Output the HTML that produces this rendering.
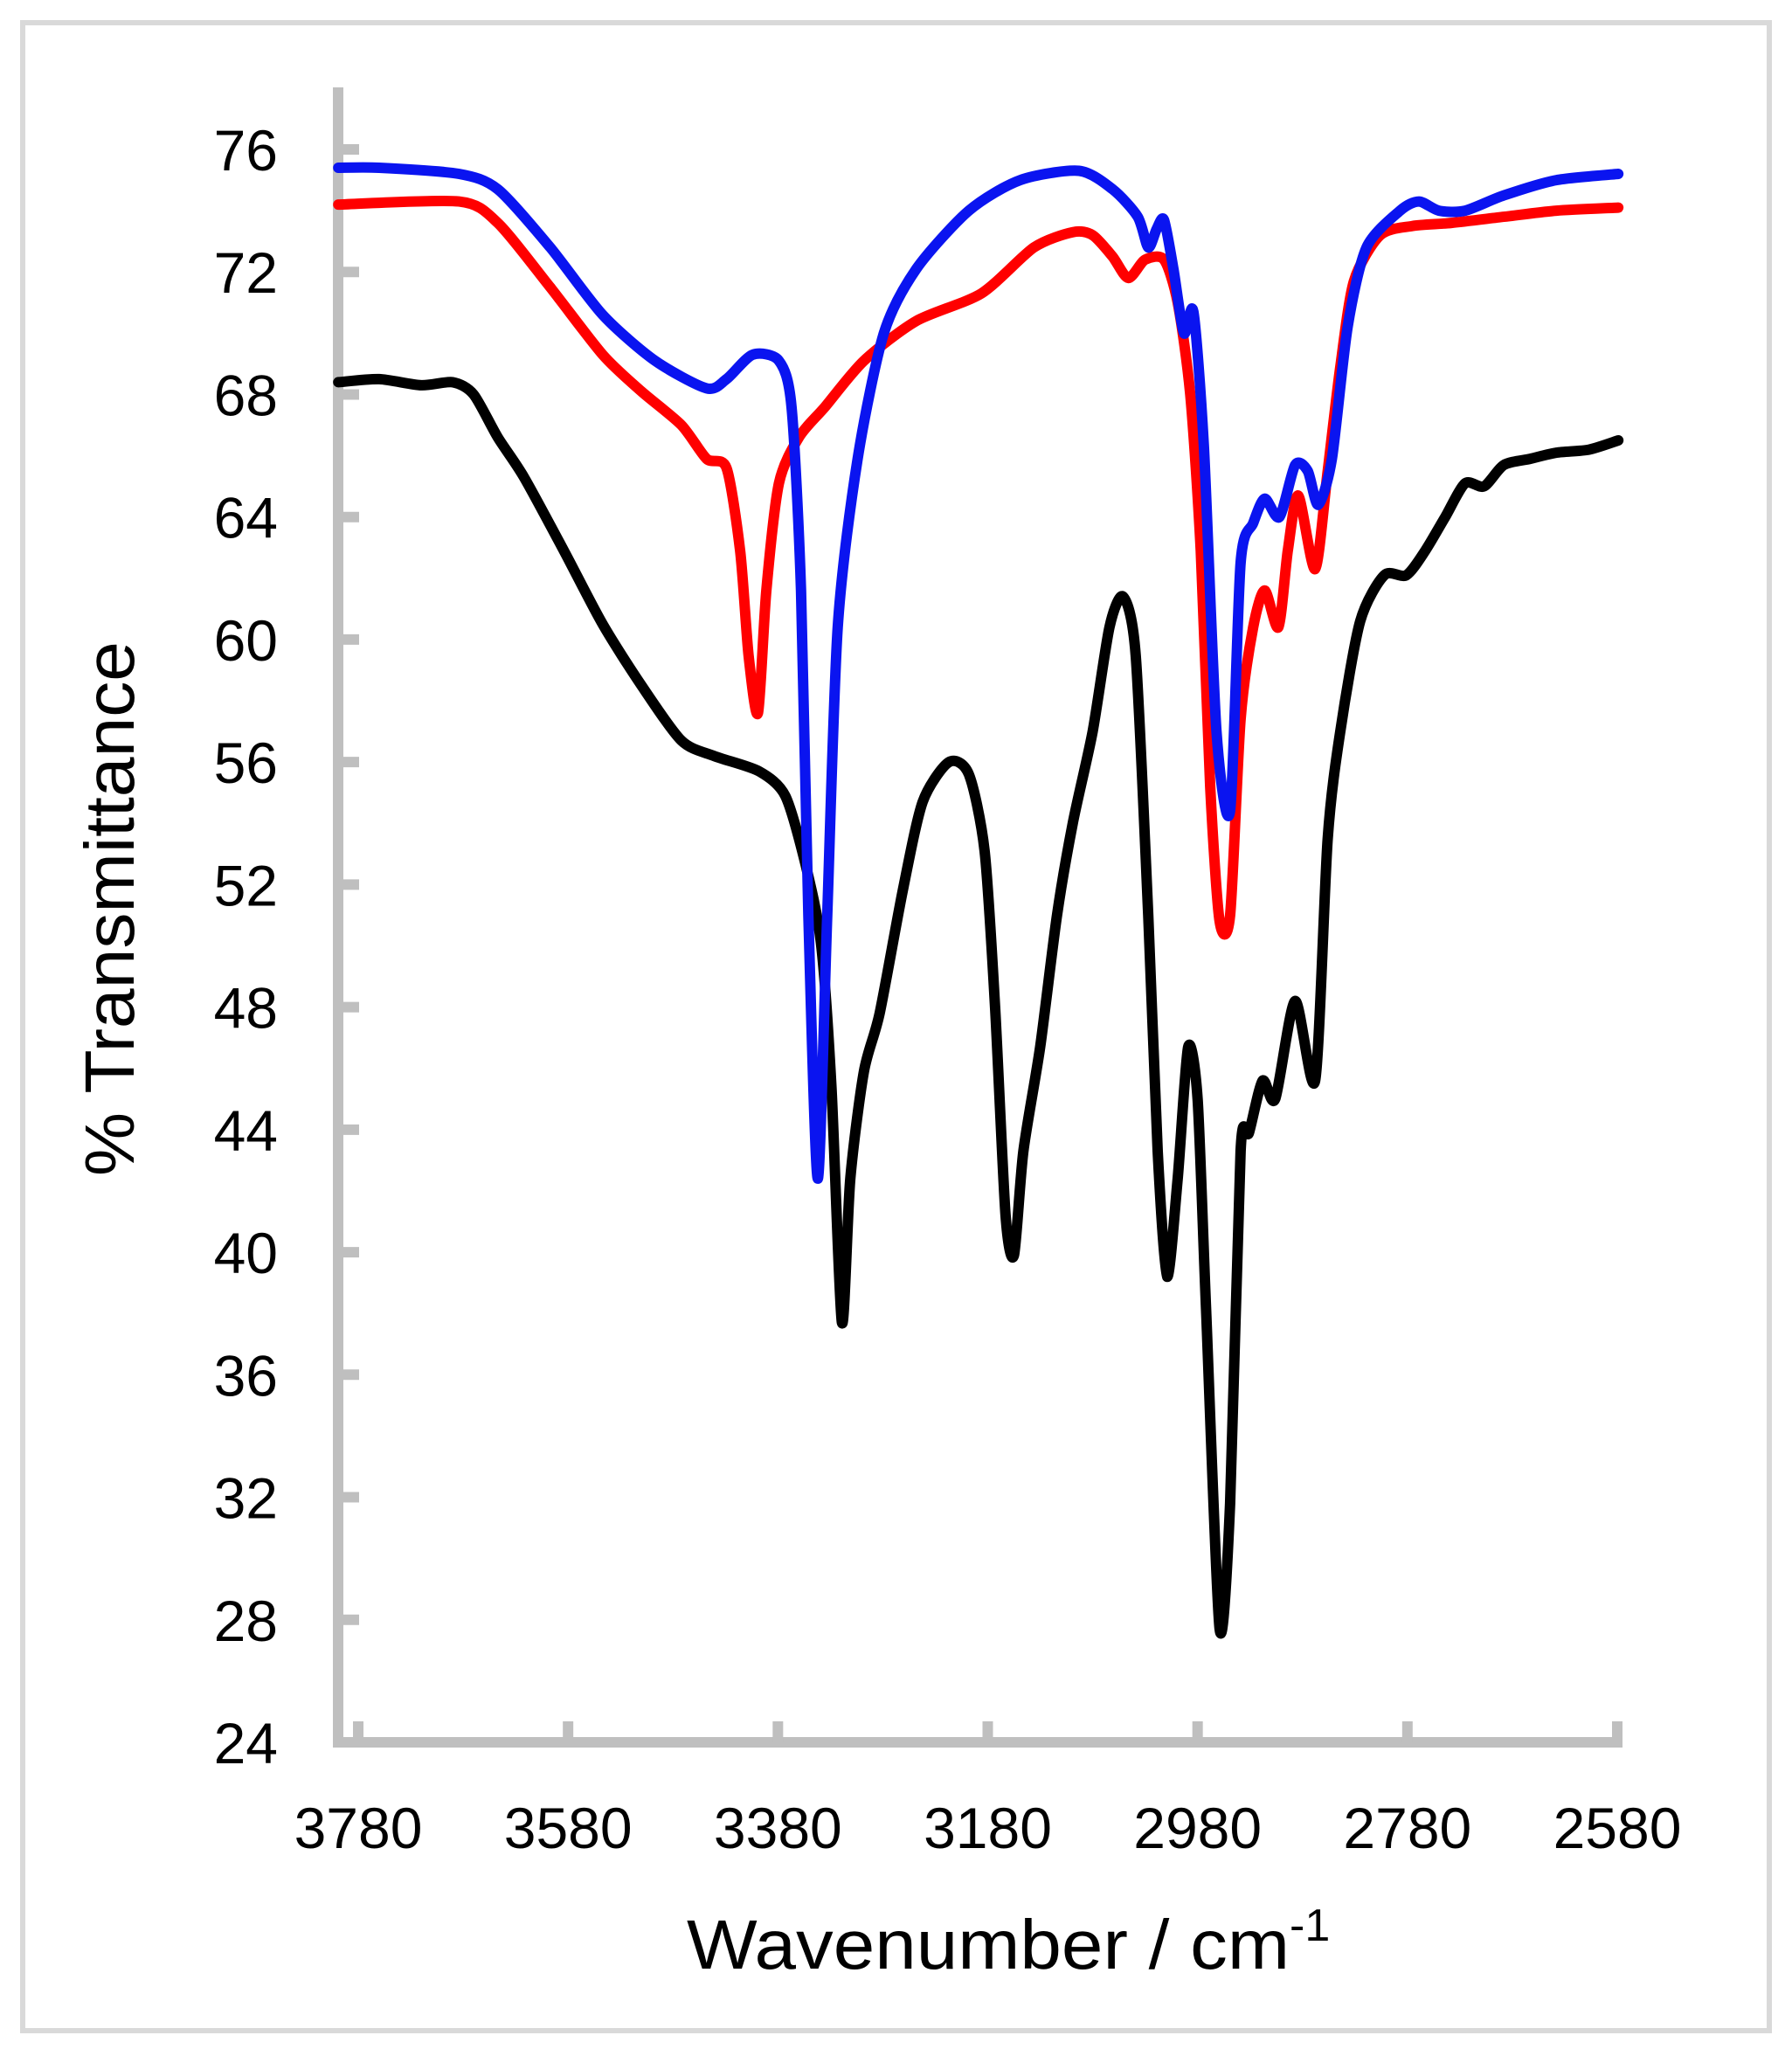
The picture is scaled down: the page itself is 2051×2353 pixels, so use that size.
<!DOCTYPE html>
<html><head><meta charset="utf-8"><style>
html,body{margin:0;padding:0;background:#fff}
svg text{font-family:"Liberation Sans",sans-serif;fill:#000}
</style></head><body>
<svg id="chart" width="2051" height="2348" viewBox="0 0 2051 2348" xmlns="http://www.w3.org/2000/svg">
<rect x="26" y="26" width="1999" height="2298" fill="#fff" stroke="#d9d9d9" stroke-width="6"/>
<g id="axes"></g>
<g id="series"></g>
<text transform="translate(153,1040) rotate(-90)" text-anchor="middle" font-size="80" textLength="612" lengthAdjust="spacingAndGlyphs">% Transmittance</text>
<text x="786" y="2253" font-size="80"><tspan textLength="690" lengthAdjust="spacingAndGlyphs">Wavenumber / cm</tspan><tspan font-size="52" dy="-32">-1</tspan></text>
</svg>
<script>
const xTicks=[3780,3580,3380,3180,2980,2780,2580];
const yTicks=[24,28,32,36,40,44,48,52,56,60,64,68,72,76];
const blackW=[3799,3760,3720,3690,3670,3647,3622,3584,3547,3510,3472,3441,3398,3373,3354,3339,3329,3319,3311,3298,3283,3261,3242,3217,3198,3183,3173,3163,3155,3146,3130,3114,3099,3080,3064,3051,3039,3027,3018,3009,2999,2989,2980,2972,2959,2949,2939,2931,2918,2906,2887,2868,2856,2844,2825,2802,2781,2763,2744,2725,2707,2688,2663,2638,2607,2579];
const blackT=[68.4,68.5,68.3,68.4,68.0,66.6,65.3,62.9,60.5,58.5,56.7,56.2,55.7,54.9,52.7,50.1,45.4,37.7,42.4,45.9,47.8,51.8,54.7,56.0,55.6,53.1,48,41.2,39.9,43.3,46.7,51,54,57,60.4,61.4,59.5,51,43.3,39.2,42.4,46.7,45,38.2,27.7,31.8,43.3,43.9,45.6,45,48.2,45.6,53.5,57,60.6,62.1,62.1,62.9,64,65.1,65,65.7,65.9,66.1,66.2,66.5];
const redW=[3799,3684,3647,3597,3547,3510,3472,3448,3429,3416,3408,3399,3391,3379,3360,3335,3298,3248,3186,3136,3099,3080,3061,3046,3030,3012,2999,2987,2977,2968,2959,2949,2939,2927,2916,2903,2894,2884,2868,2856,2844,2831,2806,2775,2738,2688,2638,2579];
const redT=[74.2,74.3,73.6,71.5,69.3,68.1,67,65.9,65.6,62.9,59.5,57.6,61.6,65.1,66.6,67.6,69.1,70.4,71.3,72.8,73.3,73.2,72.5,71.8,72.4,72.4,71,68,62.9,55.2,50.8,51,57.4,60.4,61.6,60.4,62.9,64.7,62.3,65.5,68.9,71.7,73.2,73.5,73.6,73.8,74,74.1];
const blueW=[3799,3760,3684,3647,3597,3547,3497,3448,3429,3404,3379,3367,3358,3351,3342,3333,3323,3304,3279,3248,3198,3149,3093,3061,3037,3027,3019,3012,3003,2993,2984,2974,2962,2949,2939,2927,2916,2902,2887,2875,2865,2852,2837,2819,2787,2769,2750,2725,2688,2638,2579];
const blueT=[75.4,75.4,75.2,74.7,72.8,70.6,69.1,68.2,68.5,69.3,69.1,67.6,61.6,51,42.4,51,60.4,65.9,70,72.1,74,75,75.3,74.7,73.8,72.8,73.4,73.7,72.1,70,70.7,66.3,57,54.4,62.5,63.8,64.6,64,65.7,65.5,64.4,65.9,70.2,72.8,74,74.3,74,74,74.5,75,75.2];

const NS='http://www.w3.org/2000/svg';
function X(w){return 410+(3780-w)*(1851-410)/1200;}
function Y(t){return 1994-(t-24)*(1994-171)/52;}
const axes=document.getElementById('axes'), series=document.getElementById('series');
function mk(tag,attrs,parent){const e=document.createElementNS(NS,tag);for(const k in attrs)e.setAttribute(k,attrs[k]);parent.appendChild(e);return e;}
let e;
e=mk('line',{x1:387,y1:100,x2:387,y2:2000,stroke:'#bfbfbf','stroke-width':12},axes);


e=mk('line',{x1:381,y1:1994,x2:1857,y2:1994,stroke:'#bfbfbf','stroke-width':12},axes);


yTicks.forEach(t=>{
 e=mk('line',{x1:387,y1:Y(t),x2:411,y2:Y(t),stroke:'#bfbfbf','stroke-width':12},axes);
 
 
 e=mk('text',{x:318,y:Y(t)+24,'text-anchor':'end','font-size':66},axes);
 e.textContent=t;
 
 
});
xTicks.forEach(w=>{
 e=mk('line',{x1:X(w),y1:1994,x2:X(w),y2:1970,stroke:'#bfbfbf','stroke-width':12},axes);
 
 
 e=mk('text',{x:X(w),y:2115,'text-anchor':'middle','font-size':66},axes);
 e.textContent=w;
 
 
});
function draw(W,T,color,name){
 const P=W.map((w,i)=>[X(w),Y(T[i])]);
 let d='M'+P[0][0].toFixed(1)+','+P[0][1].toFixed(1);
 const k=0.13;
 for(let i=0;i<P.length-1;i++){
  const p0=P[Math.max(0,i-1)],p1=P[i],p2=P[i+1],p3=P[Math.min(P.length-1,i+2)];
  const c1=[p1[0]+(p2[0]-p0[0])*k,p1[1]+(p2[1]-p0[1])*k];
  const c2=[p2[0]-(p3[0]-p1[0])*k,p2[1]-(p3[1]-p1[1])*k];
  d+='C'+c1[0].toFixed(1)+','+c1[1].toFixed(1)+' '+c2[0].toFixed(1)+','+c2[1].toFixed(1)+' '+p2[0].toFixed(1)+','+p2[1].toFixed(1);
 }
 const p=mk('path',{d:d,fill:'none',stroke:color,'stroke-width':12,'stroke-linejoin':'round','stroke-linecap':'round'},series);
 
 
}
draw(blackW,blackT,'#000000','black-spectrum');
draw(redW,redT,'#ff0000','red-spectrum');
draw(blueW,blueT,'#0a14f0','blue-spectrum');
</script>
</body></html>
